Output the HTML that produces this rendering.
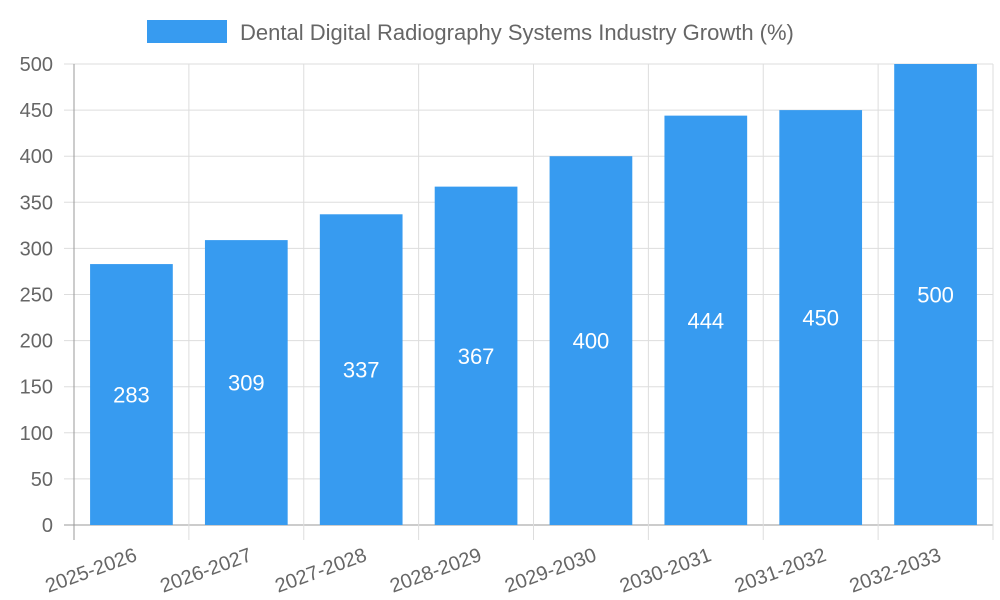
<!DOCTYPE html>
<html><head><meta charset="utf-8"><style>
html,body{margin:0;padding:0;background:#fff;}
svg{display:block;font-family:"Liberation Sans",sans-serif;}
</style></head><body>
<svg id="chart" width="1000" height="600">
<g id="legend">
<rect x="147" y="20" width="80" height="23" fill="#379bf0"></rect>
<text x="240" y="40" font-size="22" fill="#666">Dental Digital Radiography Systems Industry Growth (%)</text>
</g>
<g id="grid"></g><g id="bars"></g><g id="axes"></g>
</svg>
<script>
const categories = ["2025-2026","2026-2027","2027-2028","2028-2029","2029-2030","2030-2031","2031-2032","2032-2033"];
const values = [283,309,337,367,400,444,450,500];
const yTicks = [0,50,100,150,200,250,300,350,400,450,500];
const NS="http://www.w3.org/2000/svg";
const L=74,R=993,T=64,B=525,yMax=500;
const band=(R-L)/categories.length;
const y=v=>B-(v/yMax)*(B-T);
const xC=i=>L+band*(i+0.5);
function mk(tag,attrs,parent,txt){const e=document.createElementNS(NS,tag);for(const k in attrs)e.setAttribute(k,attrs[k]);if(txt!==undefined)e.textContent=txt;parent.appendChild(e);return e;}
const grid=document.getElementById('grid'),bars=document.getElementById('bars'),axes=document.getElementById('axes');
yTicks.forEach(t=>{
  const ln=mk('line',{x1:64,x2:R,y1:y(t),y2:y(t),stroke:t===0?'#999':'#ddd','stroke-width':1},grid);
  
  
  const tx=mk('text',{x:53,y:y(t)+7,'text-anchor':'end','font-size':20,fill:'#666'},axes,String(t));
  
  
});
for(let i=0;i<=categories.length;i++){
  const x=L+band*i;
  const ln=mk('line',{x1:x,x2:x,y1:T,y2:B+15,stroke:i===0?'#999':'#ddd','stroke-width':1},grid);
  
  
}
const bw=band*0.72;
categories.forEach((c,i)=>{
  const v=values[i];
  const r=mk('rect',{x:xC(i)-bw/2,y:y(v),width:bw,height:B-y(v),fill:'#379bf0'},bars);
  
  
  const vl=mk('text',{x:xC(i),y:(y(v)+B)/2+8,'text-anchor':'middle','font-size':22,fill:'#fff'},bars,String(v));
  
  
  const cx=xC(i)+2,cy=B+22;
  const xl=mk('text',{x:cx,y:cy+14,'text-anchor':'end','font-size':20,fill:'#666',transform:`rotate(-20 ${cx} ${cy})`},axes,c);
  
  
});
</script>
</body></html>
